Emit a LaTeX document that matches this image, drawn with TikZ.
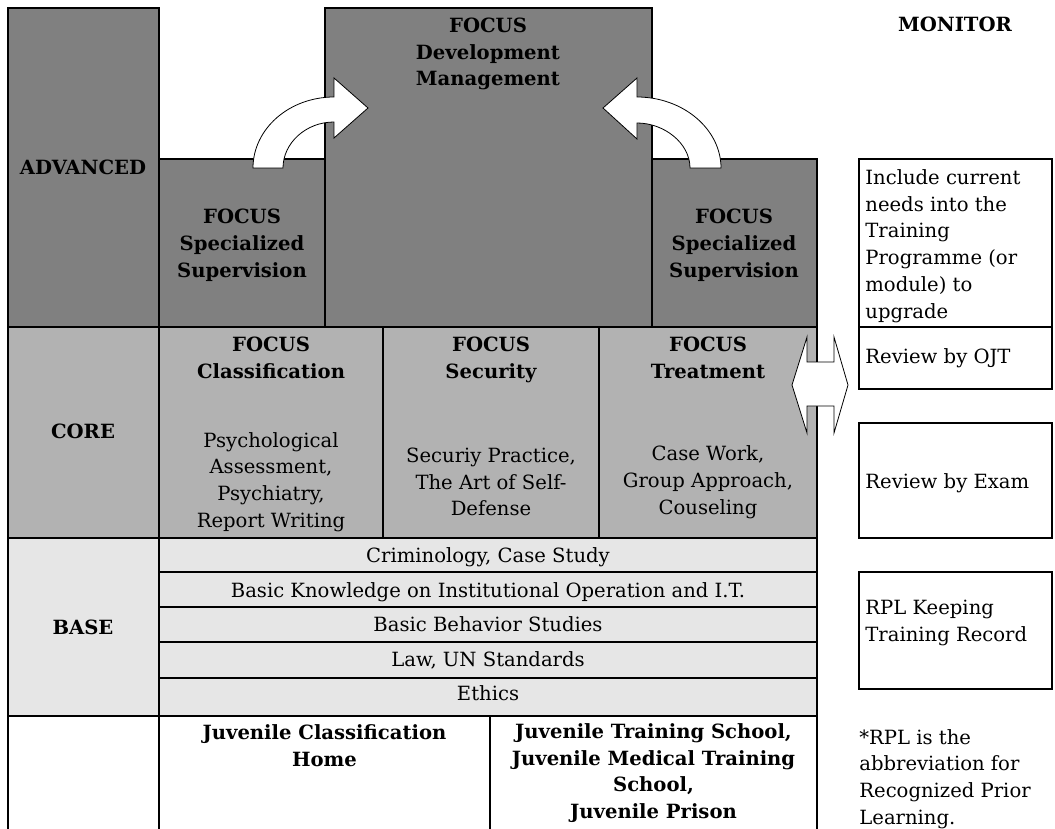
\documentclass[tikz,border=0pt]{standalone}
\usepackage{fontspec}
\setmainfont{DejaVu Serif}
\usepackage{tikz}

\definecolor{advgray}{RGB}{128,128,128}
\definecolor{coregray}{RGB}{178,178,178}
\definecolor{basegray}{RGB}{230,230,230}

\begin{document}
\begin{tikzpicture}[x=0.5pt, y=-0.5pt,
  box/.style={draw, line width=1pt},
  lbl/.style={anchor=center, align=center, inner sep=0pt, font=\fontsize{9.8}{13.4}\selectfont},
  lbll/.style={anchor=west, align=left, inner sep=0pt, font=\fontsize{9.8}{13.4}\selectfont},
  hollow/.style={draw, fill=white, line width=0.4pt}]
%\draw[step=50,gray,very thin] (0,0) grid (1055,829);
\useasboundingbox (0,0) rectangle (1055,829);

% advanced level
\draw[box, fill=advgray] (8,8) rectangle (159,327);
\draw[box, fill=advgray] (159,159) rectangle (325,327);
\draw[box, fill=advgray] (325,8) rectangle (652,327);
\draw[box, fill=advgray] (652,159) rectangle (817,327);

% core level
\draw[box, fill=coregray] (8,327) rectangle (159,538);
\draw[box, fill=coregray] (159,327) rectangle (383,538);
\draw[box, fill=coregray] (383,327) rectangle (599,538);
\draw[box, fill=coregray] (599,327) rectangle (817,538);

% base level
\draw[box, fill=basegray] (8,538) rectangle (159,716);
\foreach \ya/\yb in {538/572, 572/607, 607/642, 642/678, 678/716}
  \draw[box, fill=basegray] (159,\ya) rectangle (817,\yb);

% institutions
\foreach \xx in {8, 159, 490, 817}
  \draw[line width=1pt] (\xx,716) -- (\xx,829);

% monitor column
\draw[box] (859,159) rectangle (1052,327);
\draw[box] (859,327) rectangle (1052,389);
\draw[box] (859,423) rectangle (1052,538);
\draw[box] (859,572) rectangle (1052,689);

% curved arrows into development
\draw[hollow] (253,168) .. controls (253,129) and (289,97) .. (334,97) -- (334,78) -- (368,108)
  -- (334,138) -- (334,122) .. controls (306,122) and (283,143) .. (283,168) -- cycle;
\draw[hollow] (721,168) .. controls (721,129) and (683,97) .. (637,97) -- (637,78) -- (603,108)
  -- (637,139) -- (637,123) .. controls (664,123) and (690,143) .. (690,168) -- cycle;

% double arrow to monitor
\draw[hollow] (792,385) -- (807,337) -- (807,362) -- (834,362) -- (834,337) -- (848,385)
  -- (834,433) -- (834,406) -- (807,406) -- (807,433) -- cycle;

% labels
\node[lbl, anchor=base] (advanced) at (83,174.5) {\bfseries ADVANCED};
\node[lbl, anchor=base] (monitor) at (955,32) {\bfseries MONITOR};
\node[lbl] (specl) at (242,245) {\bfseries FOCUS\\\bfseries Specialized\\\bfseries Supervision};
\node[lbl] (devmgmt) at (488,54) {\bfseries FOCUS\\\bfseries Development\\\bfseries Management};
\node[lbl] (specr) at (734,245) {\bfseries FOCUS\\\bfseries Specialized\\\bfseries Supervision};

\node[lbl, anchor=base] (core) at (83,438.5) {\bfseries CORE};
\node[lbl] (classhd) at (271,358) {\bfseries FOCUS\\\bfseries Classification};
\node[lbl] (securhd) at (491,360.3) {\bfseries FOCUS\\\bfseries Security};
\node[lbl] (treathd) at (708,358) {\bfseries FOCUS\\\bfseries Treatment};
\node[lbl] (classbd) at (271,482) {Psychological\\Assessment,\\Psychiatry,\\Report Writing};
\node[lbl] (securbd) at (491,482) {Securiy Practice,\\The Art of Self-\\Defense};
\node[lbl] (treatbd) at (708,482) {Case Work,\\Group Approach,\\Couseling};

\node[lbl, anchor=base] (base) at (83,634.5) {\bfseries BASE};
\node[lbl, anchor=base] (crim) at (488,562) {Criminology, Case Study};
\node[lbl, anchor=base] (knowl) at (488,597) {Basic Knowledge on Institutional Operation and I.T.};
\node[lbl, anchor=base] (behav) at (488,631.5) {Basic Behavior Studies};
\node[lbl, anchor=base] (law) at (488,666.5) {Law, UN Standards};
\node[lbl, anchor=base] (ethics) at (488,700) {Ethics};

\node[lbl] (homeinst) at (324.5,746) {\bfseries Juvenile Classification\\\bfseries Home};
\node[lbl] (schoolinst) at (653.5,773) {\bfseries Juvenile Training School,\\\bfseries Juvenile Medical Training\\\bfseries School,\\\bfseries Juvenile Prison};

\node[lbll] (include) at (865,246) {Include current\\needs into the\\Training\\Programme (or\\module) to\\upgrade};
\node[lbll, anchor=base west] (ojt) at (865,363.5) {Review by OJT};
\node[lbll, anchor=base west] (exam) at (865,488.5) {Review by Exam};
\node[lbll] (rpl) at (865,623) {RPL Keeping\\Training Record};
\node[lbll] (rplnote) at (859,779) {*RPL is the\\abbreviation for\\Recognized Prior\\Learning.};

\end{tikzpicture}
\end{document}
